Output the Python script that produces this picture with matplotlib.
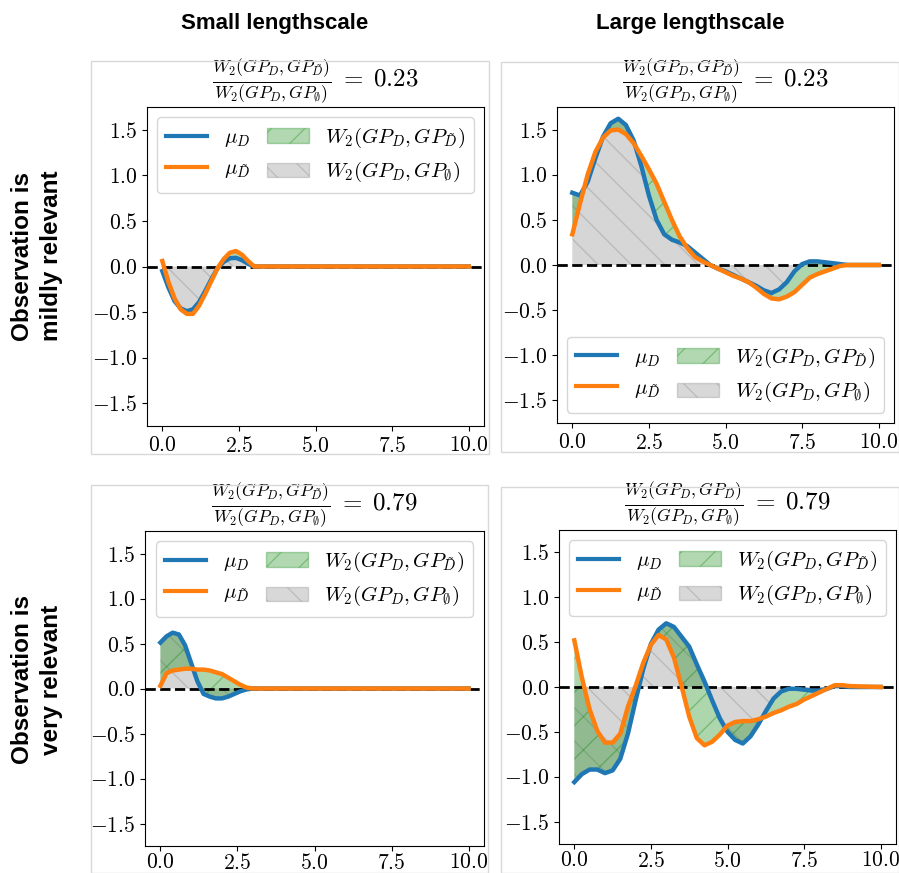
import numpy as np
import matplotlib
matplotlib.use("Agg")
import matplotlib.pyplot as plt
from matplotlib.patches import Rectangle, Patch
from matplotlib.lines import Line2D

plt.rcParams.update({
    "mathtext.fontset": "cm",
    "font.family": "serif",
    "font.serif": ["cmr10", "DejaVu Serif"],
    "axes.formatter.use_mathtext": True,
    "axes.unicode_minus": True,
})

# ---------------- data ----------------
col_titles = ["Small lengthscale", "Large lengthscale"]
row_labels = ["Observation is\nmildly relevant", "Observation is\nvery relevant"]
ratios = ["0.23", "0.23", "0.79", "0.79"]

# small lengthscale, mildly relevant
x_small = [0, 0.2, 0.4, 0.6, 0.8, 1.0, 1.2, 1.4, 1.6, 1.8, 2.0, 2.2, 2.4, 2.6, 2.8, 3.0, 10.0]
muD_sm_mild = [-0.05, -0.23, -0.38, -0.46, -0.49, -0.47, -0.39, -0.27, -0.14, -0.02, 0.05, 0.09, 0.095, 0.07, 0.03, 0.0, 0.0]
muT_sm_mild = [0.06, -0.17, -0.35, -0.47, -0.52, -0.52, -0.43, -0.30, -0.16, -0.02, 0.08, 0.15, 0.17, 0.13, 0.06, 0.0, 0.0]

# small lengthscale, very relevant
muD_sm_very = [0.51, 0.58, 0.62, 0.60, 0.48, 0.28, 0.08, -0.06, -0.09, -0.11, -0.11, -0.09, -0.06, -0.03, -0.01, 0.0, 0.0]
muT_sm_very = [0.03, 0.17, 0.20, 0.21, 0.22, 0.22, 0.21, 0.21, 0.20, 0.18, 0.16, 0.12, 0.08, 0.04, 0.01, 0.0, 0.0]

# large lengthscale
x_large = [0.0, 0.25, 0.5, 0.75, 1.0, 1.25, 1.5, 1.75, 2.0, 2.25, 2.5, 2.75, 3.0, 3.25, 3.5, 3.75,
           4.0, 4.25, 4.5, 4.75, 5.0, 5.25, 5.5, 5.75, 6.0, 6.25, 6.5, 6.75, 7.0, 7.25, 7.5, 7.75,
           8.0, 8.25, 8.5, 8.75, 9.0, 10.0]
muD_lg_mild = [0.80, 0.77, 0.92, 1.18, 1.42, 1.57, 1.62, 1.55, 1.38, 1.10, 0.77, 0.50, 0.34, 0.28, 0.25, 0.21,
               0.14, 0.07, 0.00, -0.04, -0.07, -0.11, -0.15, -0.19, -0.23, -0.28, -0.31, -0.27, -0.19, -0.07, 0.01, 0.04,
               0.04, 0.03, 0.02, 0.01, 0.0, 0.0]
muT_lg_mild = [0.34, 0.68, 1.00, 1.25, 1.41, 1.49, 1.50, 1.45, 1.35, 1.21, 1.06, 0.90, 0.70, 0.50, 0.32, 0.19,
               0.09, 0.04, 0.00, -0.04, -0.08, -0.12, -0.15, -0.19, -0.25, -0.32, -0.37, -0.38, -0.35, -0.30, -0.22, -0.14,
               -0.10, -0.07, -0.04, -0.01, 0.0, 0.0]
muD_lg_very = [-1.06, -0.97, -0.92, -0.92, -0.96, -0.93, -0.80, -0.52, -0.15, 0.20, 0.48, 0.64, 0.71, 0.67, 0.56, 0.45,
               0.25, 0.06, -0.15, -0.35, -0.50, -0.59, -0.63, -0.55, -0.42, -0.27, -0.13, -0.05, -0.02, -0.02, -0.03, -0.04,
               -0.04, -0.02, 0.01, 0.01, 0.0, 0.0]
muT_lg_very = [0.52, 0.10, -0.25, -0.49, -0.62, -0.62, -0.52, -0.22, 0.01, 0.27, 0.47, 0.58, 0.53, 0.33, 0.01, -0.33,
               -0.57, -0.65, -0.61, -0.53, -0.43, -0.39, -0.38, -0.38, -0.36, -0.33, -0.29, -0.26, -0.22, -0.19, -0.14, -0.10,
               -0.06, -0.02, 0.02, 0.02, 0.01, 0.0]

panels = [
    (x_small, muD_sm_mild, muT_sm_mild),
    (x_large, muD_lg_mild, muT_lg_mild),
    (x_small, muD_sm_very, muT_sm_very),
    (x_large, muD_lg_very, muT_lg_very),
]

W, H = 899, 873
fig = plt.figure(figsize=(W / 100, H / 100), dpi=100)

def frac(l, t, r, b):
    return [l / W, 1 - b / H, (r - l) / W, (b - t) / H]

axes_px = [(147, 107, 484, 426), (557, 107, 894, 423), (145, 531, 484, 846), (559, 530, 896, 844)]
boxes_px = [(91, 61, 489, 454), (501, 62, 899, 452), (91, 485, 488, 873), (501, 487, 899, 873)]
legend_locs = ["upper center", "lower center", "upper center", "upper center"]

for (l, t, r, b) in boxes_px:
    fig.patches.append(Rectangle((l / W, 1 - b / H), (r - l) / W, (b - t) / H,
                                 transform=fig.transFigure, fill=False,
                                 edgecolor="#d8d8d8", lw=1.0, zorder=0))

blue, orange = "#1f77b4", "#ff7f0e"
for i, ((x, mD, mT), apx) in enumerate(zip(panels, axes_px)):
    ax = fig.add_axes(frac(*apx))
    x = np.asarray(x); mD = np.asarray(mD); mT = np.asarray(mT)
    ax.fill_between(x, mD, 0, color="grey", alpha=0.32, hatch="\\", lw=0)
    ax.fill_between(x, mD, mT, color="green", alpha=0.32, hatch="/", lw=0)
    ax.axhline(0, color="k", ls="--", lw=2, zorder=1)
    ax.plot(x, mD, color=blue, lw=3.2, zorder=3, solid_joinstyle="round")
    ax.plot(x, mT, color=orange, lw=3.2, zorder=4, solid_joinstyle="round")
    ax.set_ylim(-1.75, 1.75)
    ax.set_xticks([0, 2.5, 5, 7.5, 10])
    ax.set_yticks([-1.5, -1.0, -0.5, 0.0, 0.5, 1.0, 1.5])
    ax.tick_params(labelsize=15.5)
    if i >= 2:
        ax.tick_params(axis="x", pad=1.5)
    ax.set_title(r"$\frac{W_2(GP_D,GP_{\tilde{D}})}{W_2(GP_D,GP_\emptyset)}\;=\;" + ratios[i] + "$",
                 fontsize=18, pad=3)
    handles = [Line2D([], [], color=blue, lw=3),
               Line2D([], [], color=orange, lw=3),
               Patch(facecolor="green", alpha=0.3, hatch="/", edgecolor="green"),
               Patch(facecolor="grey", alpha=0.3, hatch="\\", edgecolor="grey")]
    labels = [r"$\mu_D$", r"$\mu_{\tilde{D}}$",
              r"$W_2(GP_D, GP_{\tilde{D}})$", r"$W_2(GP_D, GP_\emptyset)$"]
    ax.legend(handles, labels, ncol=2, loc=legend_locs[i], fontsize=15,
              handlelength=2.0, columnspacing=0.8)

sans = ["Liberation Sans", "DejaVu Sans"]
fig.text(275 / W, 1 - 23 / H, col_titles[0], ha="center", va="center",
         fontsize=16, fontweight="bold", family=sans)
fig.text(690 / W, 1 - 23 / H, col_titles[1], ha="center", va="center",
         fontsize=16, fontweight="bold", family=sans)
fig.text(37 / W, 1 - 256 / H, row_labels[0], ha="center", va="center", rotation=90,
         fontsize=17.5, fontweight="bold", family=sans, linespacing=1.35)
fig.text(37 / W, 1 - 680 / H, row_labels[1], ha="center", va="center", rotation=90,
         fontsize=17.5, fontweight="bold", family=sans, linespacing=1.35)

fig.savefig("out.png", dpi=100)
